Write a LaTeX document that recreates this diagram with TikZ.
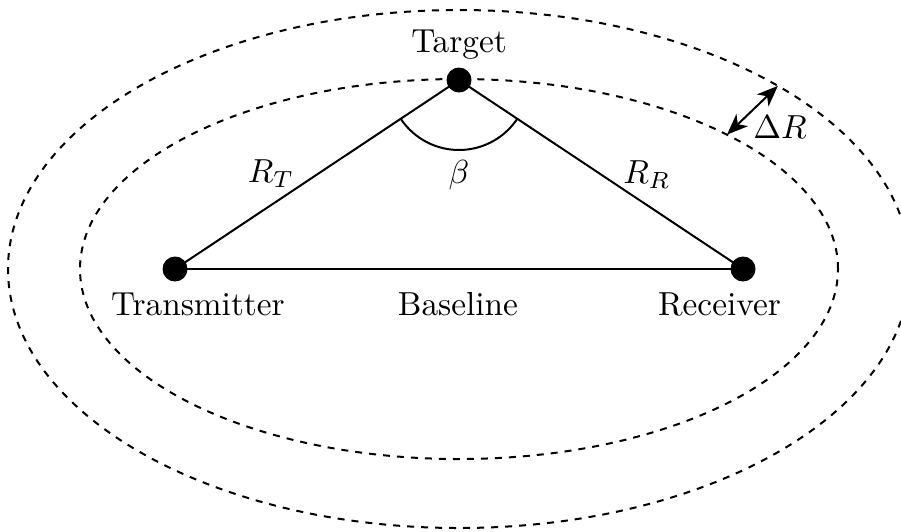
\documentclass[tikz,border=0pt]{standalone}
\usetikzlibrary{arrows.meta}
\begin{document}
\begin{tikzpicture}[x=0.3pt,y=0.3pt,
  dot/.style={circle,fill=black,inner sep=0pt,minimum size=7.5pt},
  edge/.style={line width=0.6pt},
  rangering/.style={line width=0.6pt,dash pattern=on 2.1pt off 2.1pt},
  lbl/.style={anchor=base,inner sep=0pt,font=\normalsize},
  deltatip/.tip={Stealth[length=6.3pt,width=5pt,inset=1.8pt]}]
\useasboundingbox (0,0) rectangle (901,531);
% range rings
\draw[rangering] (459,262) ellipse [x radius=379, y radius=190];
\draw[rangering] (459,262) ellipse [x radius=451, y radius=259];
% nodes
\node[dot] (tx) at (175,262) {};
\node[dot] (rx) at (743,262) {};
\node[dot] (tg) at (459,451) {};
% triangle
\draw[edge] (tx.center) -- (rx.center);
\draw[edge] (tx.center) -- (tg.center);
\draw[edge] (tg.center) -- (rx.center);
% bistatic angle
\draw[edge] (tg.center) ++(213.6:70) arc[start angle=213.6, end angle=326.4, radius=70];
% Delta R arrow
\coordinate (dri) at ({459+379*cos(45)},{262+190*sin(45)});
\coordinate (dro) at ({459+451*cos(45)},{262+259*sin(45)});
\draw[edge,deltatip-deltatip] (dri) -- (dro);
% labels
\node[lbl] (ltg) at (459,479) {Target};
\node[lbl] (ltx) at (198,216) {Transmitter};
\node[lbl] (lbase) at (458,216) {Baseline};
\node[lbl] (lrx) at (719.5,216) {Receiver};
\node[lbl] (lrt) at (271,349) {$R_T$};
\node[lbl] (lrr) at (647,348) {$R_R$};
\node[lbl] (lbeta) at (459,348) {$\beta$};
\node[lbl] (ldr) at (780,393) {$\Delta R$};
\end{tikzpicture}
\end{document}
